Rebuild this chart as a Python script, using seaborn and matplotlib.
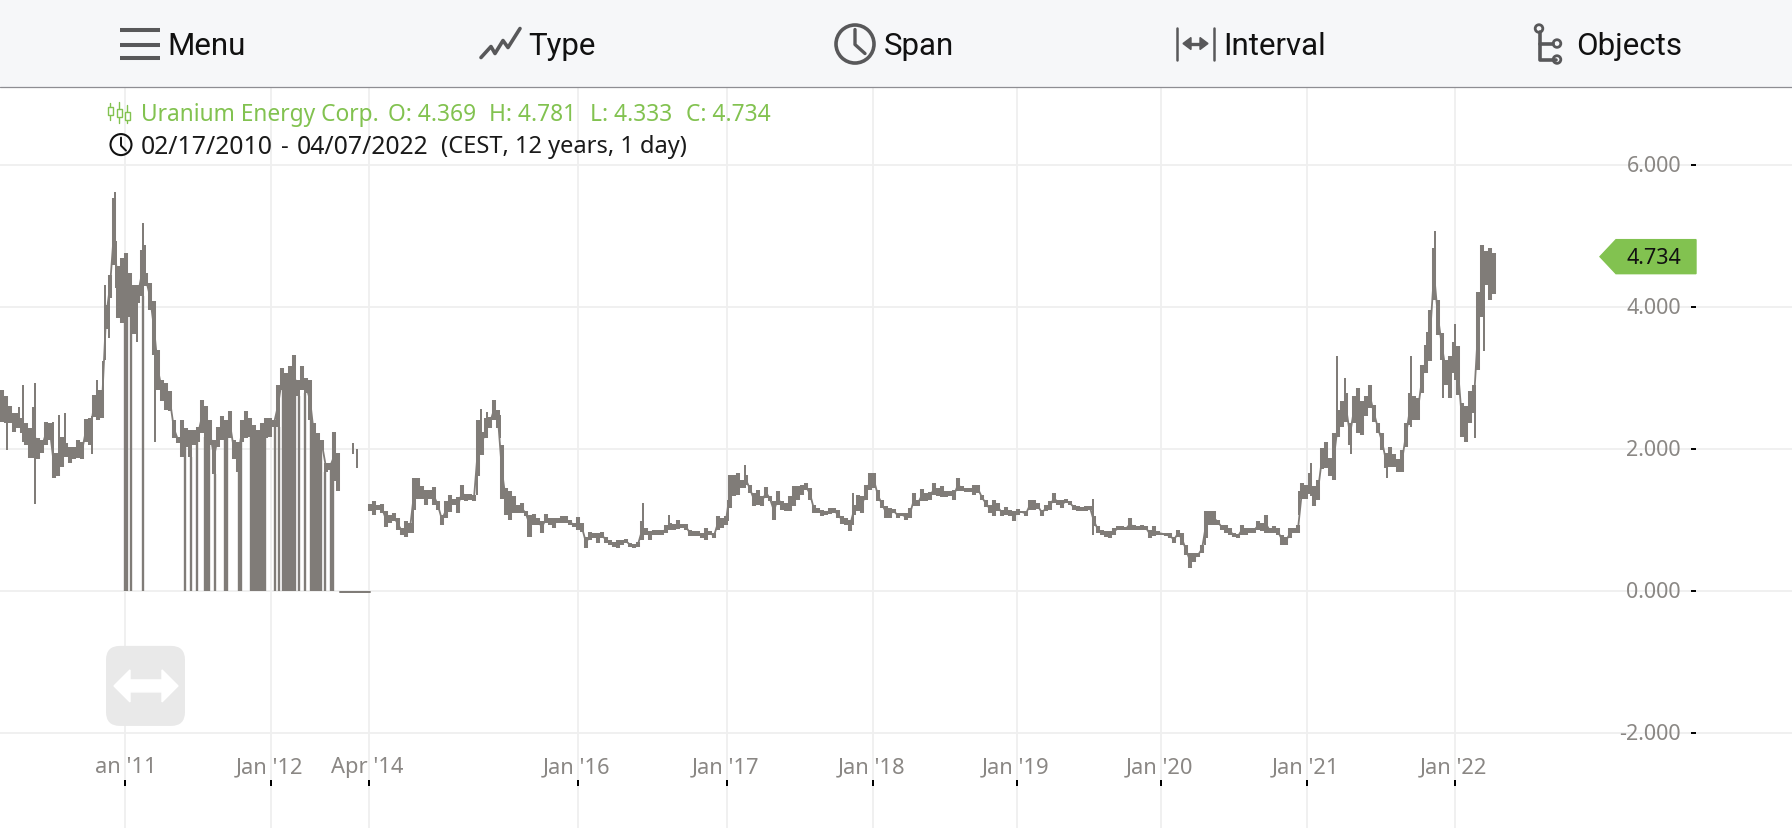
import matplotlib
matplotlib.use("Agg")
import matplotlib.pyplot as plt
from matplotlib.patches import Circle, FancyBboxPatch, Polygon
import pandas as pd
import seaborn as sns

# bars before the 2014 jump in the axis
hi_a = [2.83,2.74,2.60,2.50,2.50,2.43,2.36,2.29,2.59,2.15,
        2.13,2.38,2.36,1.94,1.94,2.17,2.08,2.03,2.03,2.13,
        2.10,2.42,2.43,2.76,2.83,2.83,4.03,4.45,5.53,4.57,
        4.69,4.75,4.47,4.31,4.31,4.80,4.47,4.33,4.08,3.39,
        2.97,2.92,2.81,2.41,2.17,2.41,2.29,2.27,2.27,2.31,
        2.69,2.60,2.41,2.13,2.31,2.46,2.41,2.53,2.13,2.10,
        2.41,2.53,2.43,2.34,2.27,2.36,2.43,2.43,2.41,2.90,
        3.14,3.07,3.16,3.32,2.97,3.16,2.99,2.97,2.36,2.22,
        2.13,1.80,1.80,2.24,1.94]
lo_a = [2.38,2.36,2.36,2.24,2.29,2.22,2.06,1.87,1.87,1.85,
        1.94,2.06,2.13,1.59,1.61,1.75,1.89,1.80,1.85,1.87,
        1.85,2.10,2.06,2.45,2.41,2.43,3.68,4.12,4.59,3.84,
        3.77,3.86,3.86,3.61,4.05,4.15,4.29,3.96,3.32,2.83,
        2.67,2.55,2.53,2.15,2.08,1.89,2.03,1.89,2.06,2.10,
        2.22,2.17,2.06,1.64,2.03,2.13,2.17,2.15,1.85,1.68,
        2.10,2.15,2.17,2.17,2.03,2.17,2.15,2.17,2.31,2.31,
        2.83,2.83,2.74,2.74,2.74,2.83,2.78,2.41,2.03,1.99,
        1.99,1.68,1.70,1.54,1.40]

# bars from Apr '14 on
hi_b = [1.22,1.26,1.21,1.22,1.12,1.07,1.09,1.02,0.88,0.98,
        0.95,1.59,1.59,1.47,1.42,1.42,1.46,1.26,1.07,1.26,
        1.35,1.30,1.32,1.49,1.37,1.37,1.35,2.41,2.24,2.43,
        2.45,2.69,2.55,2.06,1.45,1.40,1.33,1.21,1.23,1.12,
        1.07,1.08,1.02,0.98,1.08,1.02,1.02,1.02,1.05,1.05,
        1.00,0.96,1.04,0.95,0.76,0.83,0.81,0.81,0.83,0.76,
        0.72,0.69,0.71,0.72,0.73,0.68,0.66,0.69,0.98,0.88,
        0.84,0.86,0.86,0.85,0.93,0.95,0.94,1.00,0.94,0.94,
        0.86,0.84,0.84,0.81,0.88,0.84,0.81,1.06,1.02,1.05,
        1.63,1.63,1.66,1.56,1.63,1.49,1.38,1.42,1.33,1.46,
        1.33,1.26,1.40,1.26,1.23,1.33,1.47,1.47,1.49,1.52,
        1.45,1.21,1.16,1.14,1.12,1.16,1.16,1.14,1.05,1.02,
        1.00,1.21,1.35,1.33,1.49,1.66,1.66,1.42,1.28,1.19,
        1.16,1.15,1.10,1.09,1.09,1.16,1.38,1.28,
        1.43,1.38,1.39,1.52,1.45,1.48,1.40,1.41,1.42,1.59,
        1.47,1.45,1.45,1.49,1.49,1.35,1.28,1.21,1.28,1.23,
        1.14,1.18,1.14,1.12,1.15,1.13,1.12,1.28,1.28,1.23,
        1.14,1.21,1.26,1.38,1.28,1.28,1.29,1.26,1.21,1.19,
        1.18,1.19,1.20,1.05,0.91,0.86,0.84,0.84,0.88,0.92,
        0.91,0.90,1.02,0.93,0.92,0.93,0.91,0.86,0.92,0.84,
        0.82,0.81,0.81,0.76,0.86,0.81,0.65,0.53,0.53,0.53,
        0.65,1.12,1.12,1.12,1.00,
        0.93,0.93,0.88,0.81,0.80,0.93,0.88,0.88,0.88,0.98,
        0.95,1.07,0.88,0.91,0.88,0.79,0.76,0.88,0.88,0.93,
        1.52,1.49,1.66,1.47,1.56,2.01,2.10,1.87,2.22,2.55,
        2.67,2.78,2.36,2.74,2.85,2.67,2.74,2.90,2.62,2.36,
        2.22,1.94,2.03,1.92,1.85,1.99,2.36,2.78,2.74,2.71,
        3.18,3.46,3.96,4.83,4.10,3.63,3.25,3.30,3.51,3.44,
        2.64,2.60,2.81,2.90,4.21,4.87,4.78,4.83,4.76]
lo_b = [1.13,1.07,1.14,1.10,0.90,0.95,0.98,0.86,0.79,0.76,
        0.81,1.14,1.30,1.30,1.21,1.30,1.21,1.14,0.93,1.02,
        1.11,1.21,1.09,1.28,1.26,1.28,1.27,1.61,1.91,2.15,
        2.29,2.41,2.29,1.30,1.07,1.00,1.09,1.09,1.09,1.05,
        0.76,0.93,0.93,0.82,0.95,0.93,0.88,0.95,0.95,0.95,
        0.93,0.90,0.86,0.83,0.60,0.72,0.74,0.68,0.74,0.67,
        0.65,0.62,0.60,0.65,0.67,0.62,0.60,0.62,0.72,0.79,
        0.72,0.79,0.79,0.79,0.81,0.86,0.86,0.87,0.88,0.86,
        0.77,0.77,0.77,0.74,0.72,0.79,0.74,0.86,0.88,0.93,
        1.16,1.33,1.35,1.45,1.49,1.38,1.19,1.21,1.19,1.31,
        1.26,1.00,1.21,1.14,1.12,1.12,1.19,1.28,1.35,1.42,
        1.28,1.09,1.09,1.06,1.07,1.08,1.09,1.02,0.94,0.93,
        0.84,1.07,1.12,1.09,1.28,1.42,1.45,1.26,1.16,1.02,
        1.02,1.09,1.02,1.05,1.00,1.02,1.19,1.19,
        1.27,1.27,1.28,1.35,1.33,1.32,1.32,1.33,1.28,1.40,
        1.40,1.39,1.39,1.35,1.38,1.28,1.18,1.09,1.05,1.12,
        1.06,1.07,1.06,0.98,1.07,1.09,1.06,1.14,1.14,1.15,
        1.06,1.12,1.14,1.23,1.21,1.16,1.23,1.21,1.14,1.12,
        1.12,1.13,1.14,0.91,0.81,0.79,0.76,0.74,0.79,0.85,
        0.85,0.85,0.86,0.86,0.85,0.86,0.86,0.74,0.77,0.79,
        0.79,0.77,0.74,0.68,0.76,0.65,0.51,0.32,0.41,0.48,
        0.53,0.74,0.93,0.93,0.93,
        0.86,0.81,0.79,0.76,0.74,0.79,0.79,0.82,0.82,0.86,
        0.84,0.81,0.81,0.82,0.79,0.65,0.65,0.74,0.81,0.81,
        1.30,1.30,1.36,1.19,1.28,1.71,1.73,1.61,1.56,2.17,
        2.31,2.38,2.05,2.36,2.22,2.20,2.46,2.57,2.38,2.22,
        1.99,1.73,1.75,1.75,1.67,1.68,2.03,2.34,2.41,2.41,
        2.78,3.07,3.23,4.10,3.60,3.25,2.90,2.71,3.07,2.76,
        2.17,2.10,2.36,2.50,3.11,3.86,4.31,4.10,4.18]

# thin single-session wicks that stick out of the bars above
spike_x = [1.17,4.25,5.17,8.17,12.67,14.25,15.75,22.42,23.67,25.33,25.75,26.67,28.25,28.5,
           33.67,35.25,35.67,38.33,87.67,88.67,102.67,118.67,119.67,121.17,124.5,131.5,
           160.17,166.67,181.58,185.75,212.67,272.75,300.75,324.33,327.25,333.75,335.75,
           337.25,346.25,352.25,356.33,358.25,360.25,363.25,368.25,370.5]
spike_hi = [2.74,2.59,2.90,2.92,2.38,2.48,2.50,2.46,2.97,3.23,4.31,4.45,5.62,4.92,
            4.31,5.18,4.87,3.39,2.08,2.00,1.19,1.70,2.56,2.52,2.48,1.07,
            1.23,1.07,1.28,1.77,1.38,1.29,0.86,1.40,1.80,3.30,3.00,
            2.34,1.94,3.30,3.65,5.07,3.25,3.75,2.90,4.78]
spike_lo = [1.99,2.29,2.10,1.22,1.70,1.70,1.89,1.92,2.55,2.83,3.25,3.56,4.59,4.26,
            3.50,4.15,4.29,2.10,1.92,1.73,0.81,1.35,1.91,2.29,2.15,0.76,
            0.72,0.86,0.98,1.45,0.93,0.79,0.65,1.07,1.33,2.22,2.38,
            1.92,1.59,2.31,3.07,4.10,2.71,2.97,2.15,3.37]

# sessions with a bad print at zero
zero_x = [30.75,31.25,32.25,35.25,45.75,47.25,48.75,50.75,51.25,51.75,53.25,55.75,56.25,
          59.25,59.75,62.25,62.75,63.25,63.75,64.25,64.75,65.25,65.75,68.25,69.25,
          70.25,70.75,71.25,71.75,72.25,72.75,73.25,74.25,75.75,77.25,77.75,78.25,78.75,
          79.25,79.75,80.75,82.25,82.75]
flat_x = [84.5, 92.0]
flat_y = [-0.02, -0.02]

date_ticks = [30.75, 67.25, 91.75, 144.1, 181.25, 217.75, 253.75, 289.75, 326.25, 363.25]
date_labels = ["an '11", "Jan '12", "Apr '14", "Jan '16", "Jan '17", "Jan '18",
               "Jan '19", "Jan '20", "Jan '21", "Jan '22"]
price_ticks = [6, 4, 2, 0, -2]
price_labels = ["6.000", "4.000", "2.000", "0.000", "-2.000"]

GRAY = "#807c78"
GREEN = "#82c250"
ICON = "#58585a"
LABEL = "#8a8784"

sns.set_theme(style="white")
plt.rcParams["font.family"] = ["Noto Sans", "DejaVu Sans"]


def draw_bars(ax, x, hi, lo, width):
    df = pd.DataFrame({"bar": list(x) * 2, "price": list(hi) + list(lo)})
    sns.lineplot(data=df, x="bar", y="price", units="bar", estimator=None, sort=False,
                 color=GRAY, linewidth=width, solid_capstyle="butt", legend=False, ax=ax)


fig = plt.figure(figsize=(17.92, 8.285), dpi=100, facecolor="white")
ax = fig.add_axes([0, 0, 1, 740 / 828])

wick_top = [lo_a[min(int(round(k)), len(lo_a) - 1)] for k in zero_x]
draw_bars(ax, zero_x, wick_top, [0] * len(zero_x), 1.7)
draw_bars(ax, range(len(hi_a)), hi_a, lo_a, 2.9)
draw_bars(ax, range(92, 92 + len(hi_b)), hi_b, lo_b, 2.9)
draw_bars(ax, spike_x, spike_hi, spike_lo, 1.44)
sns.lineplot(x=flat_x, y=flat_y, color=GRAY, linewidth=1.44, ax=ax)

# mid price joins neighbouring bars so no white steps show between them
mid_a = [(h + l) / 2 for h, l in zip(hi_a, lo_a)]
mid_b = [(h + l) / 2 for h, l in zip(hi_b, lo_b)]
sns.lineplot(x=list(range(len(mid_a))), y=mid_a, color=GRAY, linewidth=1.3, ax=ax)
sns.lineplot(x=list(range(92, 92 + len(mid_b))), y=mid_b, color=GRAY, linewidth=1.3, ax=ax)

ax.set_xlim(-0.5, 447.5)
ax.set_ylim(-3.338, 7.085)
ax.set_xticks(date_ticks)
ax.set_yticks(price_ticks)
ax.set_xticklabels([])
ax.set_yticklabels([])
ax.set_xlabel("")
ax.set_ylabel("")
ax.grid(True, color="#efefef", linewidth=1.3)
ax.set_axisbelow(True)
ax.tick_params(length=0)
sns.despine(ax=ax, left=True, bottom=True, right=True, top=True)

# everything else sits on a pixel overlay
ov = fig.add_axes([0, 0, 1, 1], facecolor="none")
ov.set_xlim(0, 1792)
ov.set_ylim(828, 0)
ov.axis("off")

ov.fill_between([0, 1792], 0, 87, color="#f6f7f9", lw=0)
ov.plot([0, 1792], [87.5, 87.5], color="#8e8e93", lw=0.9)

for lab, x in zip(["Menu", "Type", "Span", "Interval", "Objects"], [167, 528, 884, 1223, 1576]):
    ov.text(x, 46.5, lab, fontsize=22.5, family="Roboto", color="#111111", va="center", ha="left")

# menu icon
for y in [30, 45, 58]:
    ov.plot([120, 160], [y, y], color=ICON, lw=2.9, solid_capstyle="butt")
# type icon
ov.plot([481, 491, 495, 503, 508, 520], [58, 47, 54, 41, 48, 29], color=ICON, lw=2.6)
# span icon
ov.add_patch(Circle((855, 44.5), 19, fill=False, ec=ICON, lw=2.6))
ov.plot([855, 855, 865], [30, 45, 54], color=ICON, lw=2.4)
# interval icon
ov.plot([1177, 1177], [28, 60], color=ICON, lw=1.8)
ov.plot([1214, 1214], [28, 60], color=ICON, lw=1.8)
ov.plot([1187, 1204], [44, 44], color=ICON, lw=2.4)
ov.add_patch(Polygon([[1183, 44], [1191, 38], [1191, 50]], color=ICON))
ov.add_patch(Polygon([[1208, 44], [1200, 38], [1200, 50]], color=ICON))
# objects icon
ov.plot([1540, 1540, 1556], [32, 60, 60], color=ICON, lw=2.6)
ov.plot([1540, 1553], [44, 44], color=ICON, lw=2.6)
for cx, cy in [(1539, 29), (1557, 44), (1557, 60)]:
    ov.add_patch(Circle((cx, cy), 3.8, fc="#f6f7f9", ec=ICON, lw=2))

# info lines
for piece, x in zip(["Uranium Energy Corp.", "O: 4.369", "H: 4.781", "L: 4.333", "C: 4.734"],
                    [141, 388, 489, 590, 686]):
    ov.text(x, 115, piece, fontsize=16.4, color=GREEN, va="center", ha="left")
for piece, x, size in zip(["02/17/2010", "-", "04/07/2022", "(CEST, 12 years, 1 day)"],
                          [141, 281, 297, 441], [17.8, 17, 17.8, 17]):
    ov.text(x, 147, piece, fontsize=size, color="#1a1a1a", va="center", ha="left")
for x, y0, y1, b0, b1 in [(110, 103, 120, 107, 115), (119, 102, 123, 109, 117), (127, 105, 123, 112, 120)]:
    ov.plot([x, x], [y0, y1], color=GREEN, lw=1)
    ov.add_patch(plt.Rectangle((x - 2.5, b0), 5, b1 - b0, fc="white", ec=GREEN, lw=1, zorder=3))
ov.add_patch(Circle((121, 145), 10.5, fill=False, ec="#111111", lw=1.5))
ov.plot([121, 121, 126], [138, 146, 151], color="#111111", lw=1.4)

# price axis labels and dashes
y_tr = ax.get_yaxis_transform()
px_up = 1.5 / 71
for val, lab in zip(price_ticks, price_labels):
    ax.text(1681 / 1792, val - px_up, lab, transform=y_tr, fontsize=15.5, color=LABEL, ha="right", va="center")
    ax.plot([1691 / 1792, 1696 / 1792], [val, val], transform=y_tr, color="black", lw=1.4,
            solid_capstyle="butt")

# date labels and dashes
x_tr = ax.get_xaxis_transform()
for val, lab in zip(date_ticks, date_labels):
    shift = 0.3 if lab.startswith("an") else -0.4
    ax.text(val + shift, (828 - 767) / 740, lab, transform=x_tr, fontsize=15.8, color=LABEL,
            ha="center", va="center")
    ax.plot([val, val], [(828 - 780) / 740, (828 - 786) / 740], transform=x_tr, color="black",
            lw=1.44, solid_capstyle="butt")

# last price tag
ov.add_patch(Polygon([[1600, 257], [1616, 240], [1696, 240], [1696, 274], [1616, 274]], color=GREEN))
ov.text(1681, 258, "4.734", fontsize=15.5, color="#111111", ha="right", va="center")

# drag handle
ov.add_patch(FancyBboxPatch((106, 646), 79, 80, boxstyle="round,pad=0,rounding_size=14",
                            fc="#e9e9e9", ec="none"))
ov.add_patch(Polygon([[114, 686], [130, 670], [130, 680], [162, 680], [162, 670], [178, 686],
                      [162, 702], [162, 692], [130, 692], [130, 702]], color="white"))

fig.savefig("out.png", dpi=100)
